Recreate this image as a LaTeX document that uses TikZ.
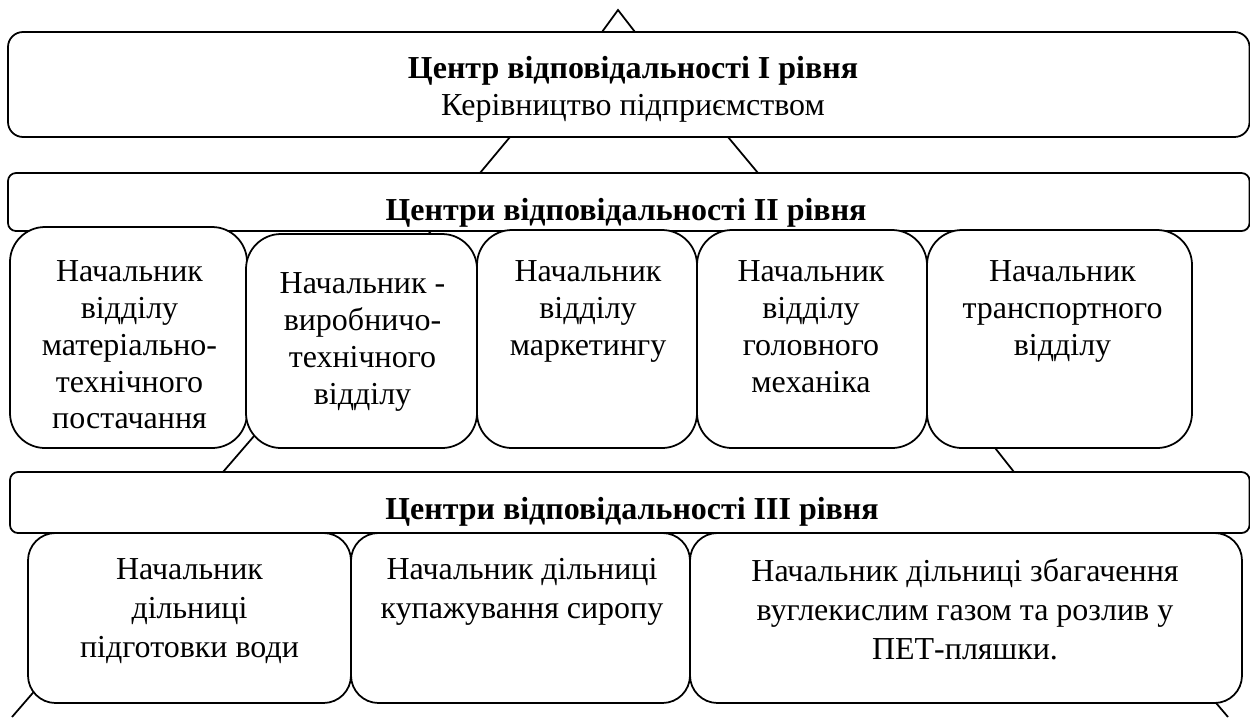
\documentclass[tikz,border=0pt]{standalone}
\usepackage{fontspec}
\setmainfont{Liberation Serif}
\usetikzlibrary{positioning}

\tikzstyle{levelbox} = [rectangle, draw, fill=white, line width=1pt,
    rounded corners=.3cm, minimum width=24.83cm, minimum height=2.1cm]
\tikzstyle{barbox} = [rectangle, draw, fill=white, line width=1pt,
    rounded corners=.16cm, minimum width=24.83cm]
\tikzstyle{headbox} = [rectangle, draw, fill=white, line width=1pt,
    rounded corners=.7cm, minimum height=4.36cm]
\tikzstyle{shopbox} = [rectangle, draw, fill=white, line width=1pt,
    rounded corners=.55cm, minimum height=3.4cm]
\tikzstyle{label} = [inner sep=0pt, anchor=north, align=center,
    font=\fontsize{18.2}{21}\selectfont]
\tikzstyle{shoplabel} = [label, font=\fontsize{18.2}{22.2}\selectfont]
\tikzstyle{edge} = [line width=1pt]

\begin{document}
\begin{tikzpicture}
	\useasboundingbox (0,0) rectangle (25,-14.34);
	% pyramid outline
	\coordinate (apex) at (12.36,-.2);
	\coordinate (apexl) at (12.04,-.64);
	\coordinate (apexr) at (12.70,-.64);
	\coordinate (onel) at (10.2,-2.74);
	\coordinate (oner) at (14.56,-2.74);
	\coordinate (twol) at (9.6,-3.46);
	\coordinate (twor) at (15.16,-3.46);
	\coordinate (twoll) at (8.62,-4.62);
	\coordinate (tworr) at (16.48,-4.62);
	\coordinate (threel) at (4.46,-9.44);
	\coordinate (threer) at (20.28,-9.44);
	\coordinate (baseul) at (.88,-13.6);
	\coordinate (baseur) at (24.1,-13.8);
	\coordinate (basel) at (.24,-14.34);
	\coordinate (baser) at (24.56,-14.34);
	\draw [edge] (apexl) -- (apex) -- (apexr);
	\draw [edge] (onel) -- (twol);
	\draw [edge] (oner) -- (twor);
	\draw [edge] (twoll) -- (threel);
	\draw [edge] (tworr) -- (threer);
	\draw [edge] (baseul) -- (basel);
	\draw [edge] (baseur) -- (baser);
	%
	\node [levelbox] (lvlone) at (12.575,-1.69) {};
	\node [label] (lvlonetxt) at (12.66,-1.12)
		{\textbf{Центр відповідальності І рівня}\\Керівництво підприємством};
	%
	\node [barbox, minimum height=1.16cm] (lvltwo) at (12.575,-4.04) {};
	\node [label] (lvltwotxt) at (12.52,-3.96)
		{\textbf{Центри відповідальності ІІ рівня}};
	%
	\node [barbox, minimum width=24.79cm, minimum height=1.22cm] (lvlthree) at (12.595,-10.05) {};
	\node [label] (lvlthreetxt) at (12.64,-9.94)
		{\textbf{Центри відповідальності ІІІ рівня}};
	%
	\node [headbox, minimum width=4.74cm, minimum height=4.42cm] (supply) at (2.57,-6.75) {};
	\node [headbox, minimum width=4.62cm, minimum height=4.28cm] (prod) at (7.23,-6.82) {};
	\node [headbox, minimum width=4.40cm] (market) at (11.74,-6.78) {};
	\node [headbox, minimum width=4.60cm] (mech) at (16.24,-6.78) {};
	\node [headbox, minimum width=5.30cm] (trans) at (21.19,-6.78) {};
	\node [label] (supplytxt) at (2.59,-5.2)
		{Начальник\\відділу\\матеріально-\\технічного\\постачання};
	\node [label] (prodtxt) at (7.25,-5.44)
		{Начальник -\\виробничо-\\технічного\\відділу};
	\node [label] (markettxt) at (11.76,-5.2)
		{Начальник\\відділу\\маркетингу};
	\node [label] (mechtxt) at (16.22,-5.2)
		{Начальник\\відділу\\головного\\механіка};
	\node [label] (transtxt) at (21.25,-5.2)
		{Начальник\\транспортного\\відділу};
	%
	\node [shopbox, minimum width=6.46cm] (water) at (3.79,-12.36) {};
	\node [shopbox, minimum width=6.78cm] (syrup) at (10.41,-12.36) {};
	\node [shopbox, minimum width=11.04cm] (bottle) at (19.32,-12.36) {};
	\node [shoplabel] (watertxt) at (3.79,-11.16)
		{Начальник\\дільниці\\підготовки води};
	\node [shoplabel] (syruptxt) at (10.44,-11.16)
		{Начальник дільниці\\купажування сиропу};
	\node [shoplabel] (bottletxt) at (19.3,-11.16)
		{Начальник дільниці збагачення\\вуглекислим газом та розлив у\\ПЕТ-пляшки.};
\end{tikzpicture}
\end{document}
